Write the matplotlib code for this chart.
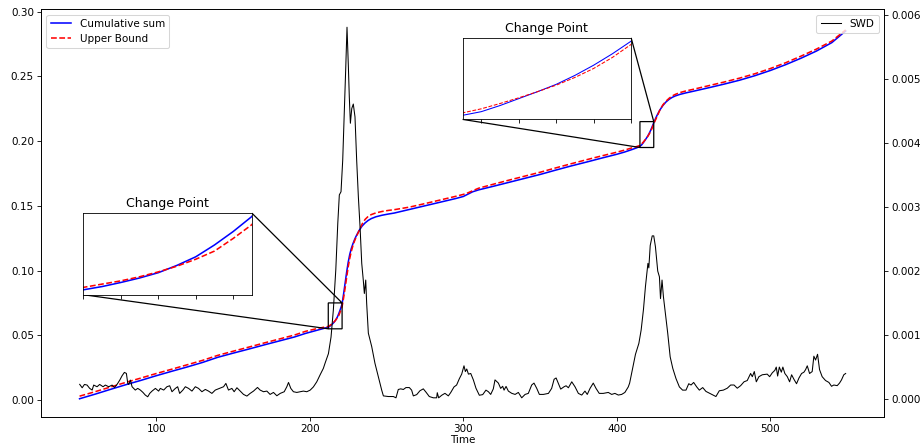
import matplotlib
matplotlib.use("Agg")
import matplotlib.pyplot as plt

# Sliced Wasserstein distance over time
time_swd = [50.1, 51.7, 53.2, 54.9, 56.6, 58.2, 59.2, 61.4, 63.1, 65.3, 66.8, 69.0, 71.2, 72.7, 74.4,
            76.2, 77.7, 79.2, 80.5, 81.4, 82.0, 83.1, 84.2, 86.3, 87.9, 89.6, 91.3, 92.8, 94.4, 95.7,
            97.2, 99.4, 101.5, 102.6, 104.8, 106.9, 108.7, 110.2, 112.4, 113.9, 115.2, 117.3, 118.9,
            121.0, 123.2, 125.4, 127.5, 129.7, 131.9, 134.0, 136.2, 138.4, 141.2, 143.8, 145.3, 147.0,
            149.2, 150.7, 152.5, 154.6, 156.8, 159.0, 161.1, 163.3, 165.9, 167.6, 169.8, 172.0, 174.1,
            176.3, 178.5, 180.7, 183.3, 185.0, 186.1, 187.6, 189.3, 191.5, 193.7, 195.8, 198.0, 200.2,
            202.3, 204.5, 206.7, 208.8, 209.9, 212.1, 213.8, 215.3, 216.9, 218.2, 219.2, 220.3, 221.4,
            222.5, 223.4, 224.2, 225.1, 225.7, 226.4, 227.3, 228.3, 229.4, 230.5, 231.6, 232.7, 233.8,
            234.8, 235.5, 236.4, 237.0, 238.1, 240.3, 242.4, 244.6, 246.8, 247.9, 251.1, 254.4, 256.1,
            257.6, 259.2, 260.9, 262.6, 264.8, 266.3, 267.4, 269.6, 271.7, 273.9, 275.6, 277.8, 280.4,
            282.6, 283.0, 283.9, 285.9, 288.0, 290.2, 291.7, 293.9, 295.6, 297.4, 298.9, 300.4, 301.3,
            302.2, 303.3, 304.8, 306.5, 308.2, 310.4, 312.6, 314.7, 316.3, 317.8, 319.5, 320.6, 322.8,
            324.3, 325.6, 326.5, 327.8, 329.3, 331.5, 333.7, 335.8, 338.0, 340.2, 342.3, 344.5, 346.0,
            347.8, 349.5, 352.1, 355.4, 357.5, 359.1, 360.4, 361.9, 363.4, 365.6, 366.9, 368.4, 370.6,
            372.7, 374.9, 377.1, 379.2, 380.7, 382.5, 384.6, 386.4, 388.5, 391.1, 394.4, 396.6, 398.7,
            400.9, 403.1, 405.2, 407.4, 408.3, 410.4, 412.1, 414.3, 415.8, 417.3, 418.6, 420.2, 420.8,
            421.7, 423.0, 424.0, 425.1, 426.6, 427.7, 428.4, 429.4, 430.3, 431.6, 433.1, 434.7, 436.4,
            438.5, 440.7, 442.8, 445.0, 446.8, 448.3, 450.0, 452.0, 453.7, 455.9, 458.0, 461.3, 464.5,
            466.7, 469.3, 471.9, 474.1, 476.3, 478.4, 480.6, 482.8, 484.9, 487.1, 488.2, 489.5, 490.8,
            492.5, 494.7, 497.9, 499.5, 501.2, 502.9, 503.8, 504.7, 505.8, 507.1, 508.1, 509.4, 511.0,
            512.5, 513.8, 515.3, 517.0, 518.6, 520.3, 521.8, 522.9, 524.0, 525.5, 527.2, 528.3, 529.4,
            530.7, 532.0, 533.7, 535.9, 538.1, 539.8, 541.3, 543.5, 545.0, 546.3, 547.8, 549.0]
swd = [0.000230, 0.000177, 0.000229, 0.000219, 0.000167, 0.000141, 0.000219, 0.000193, 0.000229,
       0.000193, 0.000219, 0.000193, 0.000219, 0.000182, 0.000229, 0.000297, 0.000365, 0.000417,
       0.000401, 0.000245, 0.000229, 0.000297, 0.000193, 0.000141, 0.000167, 0.000141, 0.000104,
       0.000063, 0.000036, 0.000089, 0.000125, 0.000167, 0.000125, 0.000167, 0.000141, 0.000193,
       0.000208, 0.000115, 0.000167, 0.000193, 0.000089, 0.000141, 0.000193, 0.000167, 0.000125,
       0.000193, 0.000167, 0.000115, 0.000151, 0.000125, 0.000089, 0.000141, 0.000167, 0.000193,
       0.000245, 0.000141, 0.000167, 0.000115, 0.000177, 0.000125, 0.000073, 0.000047, 0.000089,
       0.000125, 0.000182, 0.000141, 0.000115, 0.000125, 0.000073, 0.000104, 0.000052, 0.000089,
       0.000115, 0.000193, 0.000260, 0.000167, 0.000115, 0.000104, 0.000115, 0.000125, 0.000115,
       0.000140, 0.000190, 0.000270, 0.000380, 0.000480, 0.000560, 0.000710, 0.000970, 0.001390,
       0.002020, 0.002750, 0.003190, 0.003240, 0.003730, 0.004520, 0.005190, 0.005810, 0.005190,
       0.004720, 0.004310, 0.004540, 0.004610, 0.004410, 0.003730, 0.003160, 0.002690, 0.002120,
       0.001860, 0.001650, 0.001860, 0.001500, 0.001030, 0.000820, 0.000560, 0.000350, 0.000140,
       0.000050, 0.000040, 0.000040, 0.000020, 0.000150, 0.000160, 0.000150, 0.000180, 0.000180,
       0.000140, 0.000050, 0.000070, 0.000130, 0.000160, 0.000110, 0.000040, 0.000020, 0.000020,
       0.000100, 0.000020, 0.000060, 0.000090, 0.000050, 0.000100, 0.000190, 0.000220, 0.000320,
       0.000390, 0.000520, 0.000430, 0.000470, 0.000390, 0.000400, 0.000300, 0.000170, 0.000060,
       0.000070, 0.000140, 0.000115, 0.000073, 0.000160, 0.000300, 0.000250, 0.000167, 0.000200,
       0.000140, 0.000198, 0.000125, 0.000090, 0.000073, 0.000104, 0.000020, 0.000073, 0.000089,
       0.000220, 0.000250, 0.000167, 0.000073, 0.000073, 0.000089, 0.000167, 0.000310, 0.000330,
       0.000245, 0.000156, 0.000193, 0.000208, 0.000177, 0.000270, 0.000193, 0.000089, 0.000063,
       0.000125, 0.000073, 0.000167, 0.000250, 0.000167, 0.000089, 0.000089, 0.000104, 0.000073,
       0.000089, 0.000063, 0.000073, 0.000104, 0.000190, 0.000250, 0.000500, 0.000700, 0.000870,
       0.001080, 0.001400, 0.001760, 0.002120, 0.002050, 0.002400, 0.002550, 0.002550, 0.002380,
       0.002000, 0.001910, 0.001570, 0.001860, 0.001600, 0.001340, 0.001030, 0.000660, 0.000480,
       0.000320, 0.000190, 0.000140, 0.000140, 0.000240, 0.000220, 0.000260, 0.000190, 0.000140,
       0.000180, 0.000120, 0.000080, 0.000040, 0.000130, 0.000140, 0.000170, 0.000220, 0.000220,
       0.000170, 0.000210, 0.000270, 0.000290, 0.000400, 0.000350, 0.000430, 0.000270, 0.000350,
       0.000380, 0.000390, 0.000350, 0.000410, 0.000450, 0.000500, 0.000360, 0.000500, 0.000420,
       0.000500, 0.000400, 0.000350, 0.000270, 0.000380, 0.000310, 0.000240, 0.000330, 0.000400,
       0.000420, 0.000460, 0.000520, 0.000400, 0.000430, 0.000670, 0.000610, 0.000700, 0.000460,
       0.000350, 0.000290, 0.000260, 0.000200, 0.000220, 0.000210, 0.000250, 0.000300, 0.000380,
       0.000400]

# Cumulative sum and its upper bound
time_cs = [50, 60, 70, 80, 90, 100, 110, 120, 130, 140, 150, 160, 170, 180, 190, 197, 205, 210,
           212, 213, 214, 215, 216, 217, 218, 219, 220, 221, 222, 223, 224, 225, 226, 227, 228, 229,
           230, 232, 234, 236, 238, 240, 243, 247, 251, 255, 265, 275, 285, 295, 300, 303, 306, 310,
           320, 330, 340, 350, 360, 370, 381, 390, 400, 405, 410, 413, 415, 416, 417, 418, 419, 420,
           421, 422, 423, 424, 426, 428, 430, 432, 434, 436, 438, 441, 445, 450, 460, 470, 480, 490,
           500, 510, 520, 530, 540, 549]
cumulative_sum = [0.0010, 0.0045, 0.0082, 0.0118, 0.0152, 0.0188, 0.0222, 0.0255, 0.0290, 0.0330,
                  0.0362, 0.0393, 0.0425, 0.0456, 0.0487, 0.0514, 0.0540, 0.0556,
                  0.0562, 0.0570, 0.0580, 0.0591, 0.0604, 0.0622, 0.0643, 0.0672, 0.0705, 0.0742,
                  0.0820, 0.0905, 0.0990, 0.1065, 0.1125, 0.1170, 0.1205, 0.1235,
                  0.1262, 0.1308, 0.1343, 0.1368, 0.1387, 0.1401, 0.1415, 0.1427, 0.1436, 0.1444,
                  0.1472, 0.1500, 0.1528, 0.1556, 0.1572, 0.1590, 0.1608, 0.1623,
                  0.1652, 0.1682, 0.1712, 0.1742, 0.1775, 0.1807, 0.1840, 0.1868, 0.1898, 0.1915,
                  0.1935, 0.1948, 0.1960, 0.1969, 0.1984, 0.2001, 0.2018, 0.2036,
                  0.2058, 0.2083, 0.2111, 0.2142, 0.2195, 0.2240, 0.2275, 0.2302, 0.2322, 0.2337,
                  0.2348, 0.2360, 0.2372, 0.2385, 0.2412, 0.2440, 0.2470, 0.2505,
                  0.2545, 0.2590, 0.2640, 0.2695, 0.2760, 0.2850]
upper_bound = [0.0030, 0.0064, 0.0100, 0.0136, 0.0170, 0.0205, 0.0238, 0.0272, 0.0306, 0.0345,
               0.0377, 0.0408, 0.0440, 0.0471, 0.0502, 0.0530, 0.0553, 0.0564,
               0.0568, 0.0576, 0.0584, 0.0594, 0.0606, 0.0620, 0.0637, 0.0657, 0.0688, 0.0722,
               0.0790, 0.0868, 0.0950, 0.1030, 0.1095, 0.1148, 0.1190, 0.1225,
               0.1255, 0.1305, 0.1358, 0.1395, 0.1418, 0.1432, 0.1445, 0.1456, 0.1464, 0.1470,
               0.1490, 0.1517, 0.1545, 0.1573, 0.1588, 0.1600, 0.1616, 0.1636,
               0.1668, 0.1699, 0.1729, 0.1759, 0.1792, 0.1824, 0.1858, 0.1885, 0.1914, 0.1930,
               0.1948, 0.1958, 0.1966, 0.1976, 0.1989, 0.2003, 0.2018, 0.2034,
               0.2053, 0.2075, 0.2102, 0.2134, 0.2185, 0.2240, 0.2280, 0.2308, 0.2330, 0.2348,
               0.2360, 0.2374, 0.2387, 0.2400, 0.2428, 0.2456, 0.2486, 0.2520,
               0.2560, 0.2605, 0.2656, 0.2710, 0.2772, 0.2858]

# Zoom windows around the two change points: (x0, x1, y0, y1)
zoom_windows = [(212, 221, 0.055, 0.075), (415, 424, 0.195, 0.215)]
zoom_ticks = [[212, 214, 216, 218, 220], [416, 418, 420, 422, 424]]
inset_bounds = [[0.05, 0.30, 0.20, 0.20], [0.50, 0.73, 0.20, 0.20]]
inset_lw = [1.5, 1.0]

fig = plt.figure(figsize=(923 / 75, 446 / 75), dpi=75)
ax = fig.add_axes([0.0447, 0.065, 0.913, 0.9141])

ax.plot(time_cs, cumulative_sum, color="blue", label="Cumulative sum")
ax.plot(time_cs, upper_bound, "r--", label="Upper Bound")
ax.set_xlim(25.05, 573.95)
ax.set_ylim(-0.0131, 0.3017)
ax.set_yticks([0.0, 0.05, 0.10, 0.15, 0.20, 0.25, 0.30])
ax.set_xlabel("Time", labelpad=0.5)
ax.legend(loc="upper left")

ax2 = ax.twinx()
ax2.plot(time_swd, swd, color="black", lw=1, label="SWD")
ax2.set_ylim(-0.00028, 0.00609)
ax2.set_yticks([0.000, 0.001, 0.002, 0.003, 0.004, 0.005, 0.006])
ax2.legend(loc="upper right")

for (x0, x1, y0, y1), ticks, bounds, lw in zip(zoom_windows, zoom_ticks, inset_bounds, inset_lw):
    axins = ax.inset_axes(bounds)
    axins.plot(time_cs, cumulative_sum, color="blue", lw=lw)
    axins.plot(time_cs, upper_bound, "r--", lw=lw)
    axins.set_xlim(x0, x1)
    axins.set_ylim(y0, y1)
    axins.set_xticks(ticks)
    axins.set_xticklabels([])
    axins.set_yticks([])
    axins.set_title("Change Point")
    ax.indicate_inset_zoom(axins, edgecolor="black", alpha=1.0, linewidth=1.2)

fig.savefig("out.png", dpi=75)
